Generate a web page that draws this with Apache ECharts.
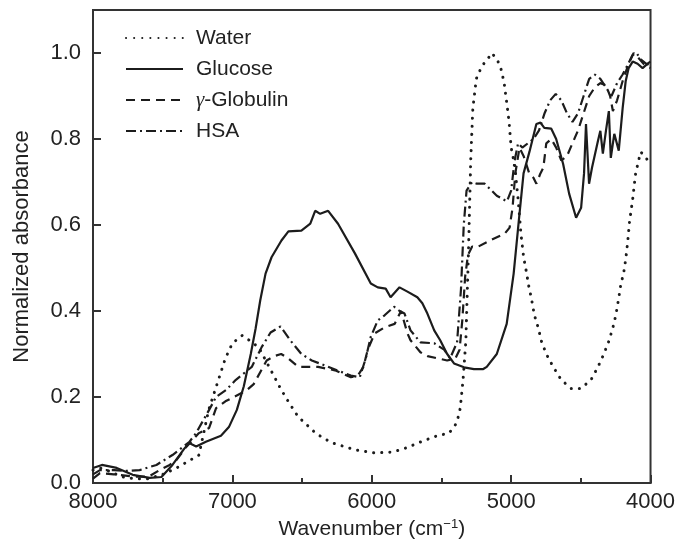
<!DOCTYPE html>
<html>
<head>
<meta charset="utf-8">
<script src="https://cdn.jsdelivr.net/npm/echarts@6/dist/echarts.min.js"></script>
<style>
  html, body { margin: 0; padding: 0; background: #fff; }
  #chart { width: 678px; height: 554px; }
</style>
</head>
<body>
<div id="chart"></div>
<script>
// values
const xTicks = [8000, 7000, 6000, 5000, 4000]
const yTicks = ['0.0', '0.2', '0.4', '0.6', '0.8', '1.0']

const waterWn = [8000, 7950, 7900, 7800, 7700, 7600, 7500, 7400, 7320, 7240, 7170, 7080, 7050, 7000, 6930, 6870, 6810, 6720, 6655, 6600, 6530, 6400, 6290, 6120, 5980, 5850, 5750, 5670, 5530, 5445, 5390, 5365, 5345, 5325, 5305, 5290, 5275, 5250, 5210, 5170, 5140, 5100, 5070, 5050, 5030, 5015, 5000, 4975, 4950, 4930, 4910, 4890, 4875, 4855, 4833, 4805, 4783, 4748, 4698, 4641, 4570, 4498, 4427, 4377, 4335, 4299, 4271, 4249, 4228, 4214, 4192, 4178, 4164, 4150, 4128, 4107, 4071, 4040, 4000]
const waterAbs = [0.03, 0.035, 0.03, 0.015, 0.01, 0.01, 0.02, 0.035, 0.05, 0.065, 0.17, 0.26, 0.29, 0.325, 0.343, 0.33, 0.315, 0.26, 0.22, 0.19, 0.155, 0.115, 0.094, 0.077, 0.07, 0.072, 0.082, 0.093, 0.11, 0.116, 0.14, 0.174, 0.24, 0.33, 0.55, 0.75, 0.87, 0.94, 0.97, 0.985, 1.0, 0.985, 0.96, 0.93, 0.88, 0.84, 0.78, 0.74, 0.66, 0.58, 0.524, 0.49, 0.46, 0.43, 0.39, 0.36, 0.33, 0.30, 0.27, 0.24, 0.22, 0.22, 0.24, 0.27, 0.30, 0.33, 0.36, 0.39, 0.43, 0.46, 0.49, 0.52, 0.56, 0.61, 0.66, 0.72, 0.77, 0.76, 0.74]

const glucoseWn = [8000, 7936, 7830, 7715, 7594, 7509, 7430, 7345, 7310, 7260, 7190, 7082, 7025, 6968, 6918, 6868, 6833, 6800, 6762, 6719, 6648, 6598, 6505, 6441, 6406, 6370, 6313, 6242, 6121, 6007, 5957, 5900, 5865, 5801, 5744, 5673, 5637, 5601, 5552, 5509, 5459, 5410, 5338, 5267, 5200, 5175, 5103, 5032, 4982, 4947, 4911, 4869, 4819, 4790, 4762, 4712, 4677, 4627, 4584, 4534, 4498, 4477, 4463, 4441, 4420, 4377, 4360, 4342, 4320, 4299, 4285, 4260, 4228, 4200, 4178, 4157, 4128, 4093, 4057, 4014, 4000]
const glucoseAbs = [0.035, 0.042, 0.035, 0.019, 0.012, 0.014, 0.042, 0.08, 0.093, 0.085, 0.096, 0.11, 0.13, 0.17, 0.225, 0.30, 0.36, 0.425, 0.487, 0.525, 0.564, 0.585, 0.587, 0.603, 0.633, 0.626, 0.633, 0.603, 0.534, 0.464, 0.455, 0.452, 0.432, 0.455, 0.445, 0.432, 0.418, 0.394, 0.355, 0.332, 0.30, 0.278, 0.269, 0.265, 0.265, 0.27, 0.30, 0.37, 0.487, 0.603, 0.72, 0.77, 0.835, 0.838, 0.826, 0.824, 0.80, 0.742, 0.673, 0.617, 0.64, 0.72, 0.835, 0.696, 0.733, 0.796, 0.819, 0.766, 0.819, 0.865, 0.756, 0.812, 0.773, 0.872, 0.935, 0.965, 0.98, 0.975, 0.965, 0.977, 0.98]

const globulinWn = [8000, 7950, 7850, 7700, 7600, 7523, 7450, 7402, 7331, 7240, 7167, 7117, 7050, 6990, 6900, 6847, 6754, 6700, 6650, 6600, 6527, 6450, 6385, 6264, 6150, 6100, 6060, 6029, 5979, 5908, 5836, 5790, 5744, 5722, 5651, 5600, 5530, 5459, 5400, 5370, 5350, 5330, 5310, 5280, 5246, 5153, 5046, 5011, 4990, 4970, 4940, 4910, 4870, 4840, 4819, 4790, 4769, 4748, 4712, 4677, 4640, 4600, 4560, 4520, 4480, 4440, 4400, 4360, 4320, 4290, 4270, 4240, 4200, 4157, 4121, 4090, 4050, 4000]
const globulinAbs = [0.01, 0.023, 0.02, 0.015, 0.015, 0.03, 0.042, 0.053, 0.084, 0.116, 0.128, 0.174, 0.19, 0.2, 0.215, 0.23, 0.285, 0.295, 0.30, 0.29, 0.27, 0.27, 0.27, 0.262, 0.246, 0.25, 0.27, 0.31, 0.348, 0.362, 0.37, 0.40, 0.348, 0.332, 0.304, 0.295, 0.29, 0.285, 0.29, 0.31, 0.38, 0.48, 0.53, 0.55, 0.548, 0.564, 0.58, 0.594, 0.64, 0.72, 0.78, 0.76, 0.72, 0.71, 0.696, 0.72, 0.733, 0.79, 0.80, 0.78, 0.75, 0.76, 0.79, 0.82, 0.86, 0.90, 0.92, 0.93, 0.925, 0.90, 0.865, 0.89, 0.935, 0.975, 1.0, 0.99, 0.975, 0.965]

const hsaWn = [8000, 7950, 7850, 7750, 7666, 7545, 7430, 7310, 7260, 7240, 7167, 7117, 7046, 6975, 6861, 6790, 6726, 6655, 6580, 6505, 6430, 6350, 6250, 6150, 6086, 6043, 6007, 5957, 5908, 5840, 5800, 5765, 5722, 5651, 5552, 5481, 5438, 5388, 5360, 5340, 5320, 5280, 5246, 5190, 5103, 5030, 5000, 4975, 4950, 4920, 4880, 4840, 4800, 4760, 4720, 4680, 4640, 4600, 4560, 4520, 4480, 4440, 4400, 4360, 4320, 4280, 4240, 4200, 4160, 4130, 4100, 4070, 4030, 4000]
const hsaAbs = [0.02, 0.03, 0.03, 0.028, 0.03, 0.042, 0.065, 0.095, 0.116, 0.128, 0.17, 0.2, 0.216, 0.24, 0.27, 0.316, 0.35, 0.364, 0.33, 0.30, 0.285, 0.275, 0.262, 0.25, 0.246, 0.29, 0.34, 0.378, 0.39, 0.41, 0.40, 0.394, 0.355, 0.327, 0.325, 0.31, 0.29, 0.327, 0.45, 0.60, 0.68, 0.70, 0.696, 0.696, 0.668, 0.655, 0.68, 0.75, 0.79, 0.78, 0.79, 0.80, 0.82, 0.86, 0.89, 0.905, 0.89, 0.86, 0.84, 0.86, 0.90, 0.94, 0.95, 0.94, 0.92, 0.90, 0.93, 0.95, 0.975, 0.995, 1.0, 0.985, 0.975, 0.97]

const pairs = (xs, ys) => xs.map((x, i) => [x, ys[i]])

const ink = '#1c1c1c'
const font = 'Liberation Sans, Arial, Helvetica, sans-serif'

const chart = echarts.init(document.getElementById('chart'))

const option = {
  animation: false,
  textStyle: { fontFamily: font },
  grid: {
    left: 93,
    right: 23,
    top: 10,
    bottom: 71,
    show: true,
    borderColor: '#333',
    borderWidth: 2
  },
  legend: {
    orient: 'vertical',
    left: 120,
    top: 22,
    itemWidth: 57,
    itemHeight: 14,
    itemGap: 9,
    itemStyle: { opacity: 0 },
    data: ['Water', 'Glucose', 'γ-Globulin', 'HSA'],
    formatter: name => name === 'γ-Globulin' ? '{g|γ}-Globulin' : name,
    textStyle: {
      color: '#222',
      fontSize: 21,
      lineHeight: 22,
      padding: [0, 0, 0, 8],
      rich: {
        g: { fontFamily: 'Liberation Serif, serif', fontStyle: 'italic', fontSize: 21, color: '#222' }
      }
    }
  },
  xAxis: {
    type: 'value',
    inverse: true,
    min: 4000,
    max: 8000,
    interval: 1000,
    name: 'Wavenumber (cm{sup|−1})',
    nameLocation: 'middle',
    nameGap: 30,
    nameTextStyle: {
      color: '#222',
      fontSize: 21,
      rich: {
        sup: { fontSize: 13, verticalAlign: 'top', padding: [0, 0, 10, 0], color: '#222' }
      }
    },
    axisLine: { show: true, lineStyle: { color: '#333', width: 2 } },
    axisTick: { show: true, inside: true, length: 8, lineStyle: { color: '#333', width: 2 } },
    minorTick: { show: true, splitNumber: 2, length: 5, lineStyle: { color: '#333', width: 2 } },
    axisLabel: { color: '#222', fontSize: 22, margin: 8, formatter: v => xTicks.includes(v) ? String(v) : '' },
    splitLine: { show: false }
  },
  yAxis: {
    type: 'value',
    min: 0,
    max: 1.1,
    interval: 0.2,
    name: 'Normalized absorbance',
    nameLocation: 'middle',
    nameGap: 60,
    nameTextStyle: { color: '#222', fontSize: 22 },
    axisLine: { show: true, lineStyle: { color: '#333', width: 2 } },
    axisTick: { show: true, inside: true, length: 8, lineStyle: { color: '#333', width: 2 } },
    axisLabel: {
      color: '#222',
      fontSize: 22,
      margin: 12,
      formatter: v => {
        const s = v.toFixed(1)
        return yTicks.includes(s) ? s : ''
      }
    },
    splitLine: { show: false }
  },
  series: [
    {
      name: 'Water',
      type: 'line',
      symbol: 'none',
      data: pairs(waterWn, waterAbs),
      lineStyle: { color: ink, width: 3, type: [0.1, 8], cap: 'round' },
      itemStyle: { color: ink }
    },
    {
      name: 'Glucose',
      type: 'line',
      symbol: 'none',
      data: pairs(glucoseWn, glucoseAbs),
      lineStyle: { color: ink, width: 2.2 },
      itemStyle: { color: ink }
    },
    {
      name: 'γ-Globulin',
      type: 'line',
      symbol: 'none',
      data: pairs(globulinWn, globulinAbs),
      lineStyle: { color: ink, width: 2.2, type: [9, 6] },
      itemStyle: { color: ink }
    },
    {
      name: 'HSA',
      type: 'line',
      symbol: 'none',
      data: pairs(hsaWn, hsaAbs),
      lineStyle: { color: ink, width: 2.2, type: [10, 4, 2, 4] },
      itemStyle: { color: ink }
    }
  ]
}

chart.setOption(option)
</script>
</body>
</html>
